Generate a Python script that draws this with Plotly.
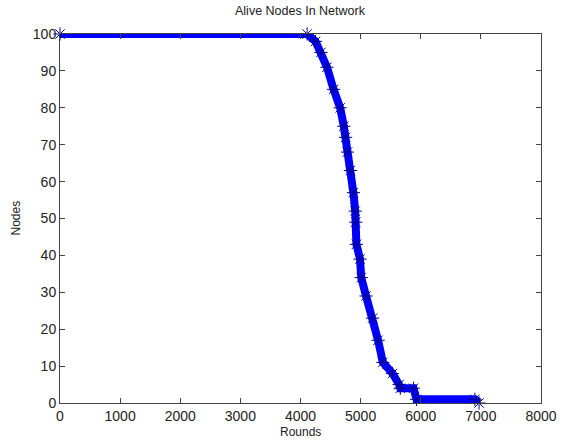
import plotly.graph_objects as go

# Data
rounds = [0, 4110, 4250, 4340, 4440, 4550, 4660, 4720, 4750, 4780, 4830, 4880, 4910,
          4920, 4930, 4990, 5010, 5090, 5200, 5290, 5370, 5530, 5640, 5660, 5880,
          5930, 6900, 6970]
nodes = [100, 100, 98, 95, 91, 85, 80, 75, 72, 68, 63, 57, 52,
         49, 43, 39, 34, 29, 23, 17, 11, 8, 5, 4, 4,
         1, 1, 0]

x_ticks = [0, 1000, 2000, 3000, 4000, 5000, 6000, 7000, 8000]
y_ticks = [0, 10, 20, 30, 40, 50, 60, 70, 80, 90, 100]

W, H = 569, 441
L, R, T, B = 60, 17, 34, 38

fig = go.Figure()
fig.add_trace(go.Scatter(
    x=rounds, y=nodes, mode="lines+markers",
    line=dict(color="rgb(0,0,255)", width=8),
    marker=dict(symbol="asterisk-open", size=11, color="rgb(0,0,140)",
                line=dict(color="rgb(0,0,140)", width=1)),
    showlegend=False, cliponaxis=False,
))

fam = "Liberation Sans, Arial, sans-serif"
tick_font = dict(family=fam, size=14, color="#222")
label_font = dict(family=fam, size=12, color="#222")

axis_common = dict(
    showgrid=False, zeroline=False, showline=True, mirror="ticks",
    linecolor="#444", linewidth=1, ticks="inside", ticklen=5,
    tickcolor="#444", tickwidth=1, tickfont=tick_font,
)

fig.update_layout(
    width=W, height=H,
    margin=dict(l=L, r=R, t=T, b=B, pad=0),
    paper_bgcolor="white", plot_bgcolor="white",
    font=label_font,
    xaxis=dict(range=[0, 8000], tickvals=x_ticks,
               ticktext=[str(v) for v in x_ticks], **axis_common),
    yaxis=dict(range=[0, 100], tickvals=y_ticks,
               ticktext=[str(v) for v in y_ticks], **axis_common),
    annotations=[
        dict(text="Alive Nodes In Network", xref="paper", yref="paper",
             x=0.5, y=1, yshift=23, xanchor="center", yanchor="middle",
             showarrow=False, font=dict(size=12.5, color="#222", family=fam)),
        dict(text="Rounds", xref="paper", yref="paper",
             x=0.5, y=0, yshift=-29, xanchor="center", yanchor="middle",
             showarrow=False, font=label_font),
        dict(text="Nodes", xref="paper", yref="paper",
             x=0, y=0.5, xshift=-45, xanchor="center", yanchor="middle",
             textangle=-90, showarrow=False, font=label_font),
    ],
)

fig.write_html("out.html")
